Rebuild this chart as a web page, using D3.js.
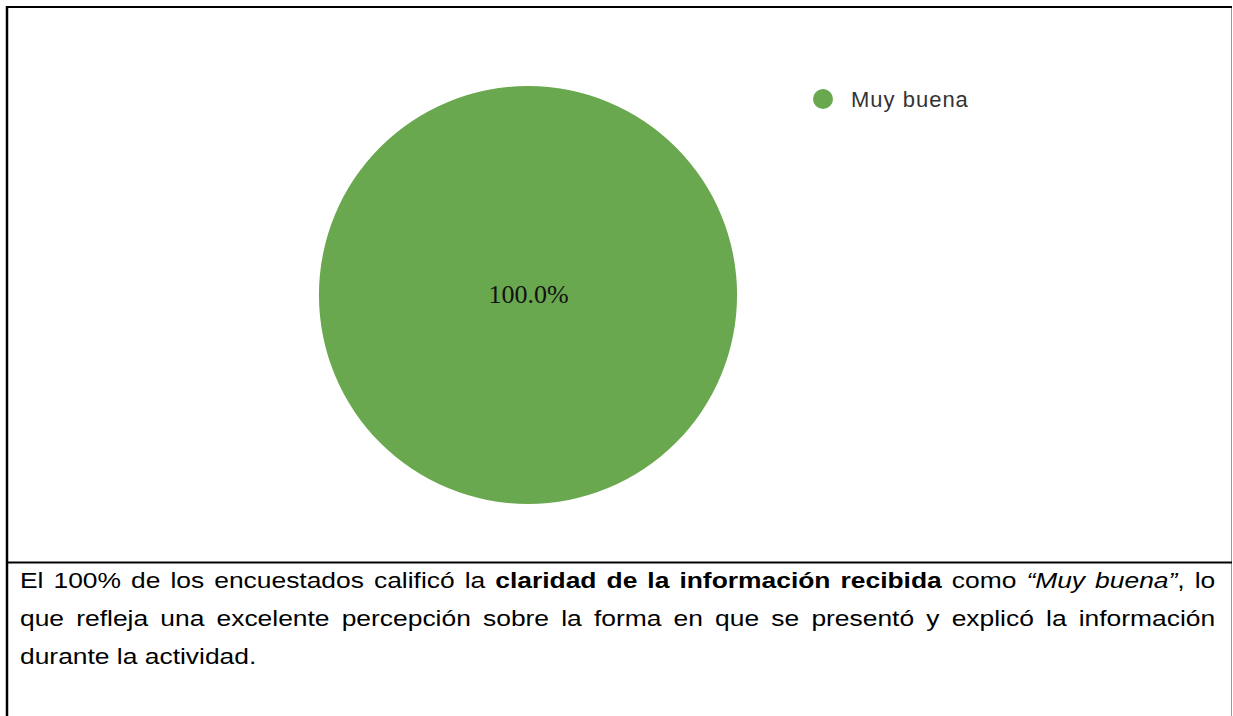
<!DOCTYPE html>
<html>
<head>
<meta charset="utf-8">
<script src="https://cdn.jsdelivr.net/npm/d3@7"></script>
<style>
  html, body { margin: 0; padding: 0; background: #fff; }
  #wrap { position: relative; width: 1233px; height: 716px; overflow: hidden; }
  svg { position: absolute; left: 0; top: 0; }
  #note {
    position: absolute;
    left: 20px;
    top: 562px;
    width: 996px;
    transform: scaleX(1.2);
    transform-origin: 0 0;
    font-family: "Liberation Sans", Arial, sans-serif;
    font-size: 22px;
    line-height: 38px;
    color: #000;
  }
  #note .ln { white-space: nowrap; text-align: justify; text-align-last: justify; }
  #note .ln.last { text-align-last: left; }
</style>
</head>
<body>
<div id="wrap">
  <svg id="chart" width="1233" height="716"></svg>
  <div id="note">
    <div class="ln">El 100% de los encuestados calificó la <b>claridad de la información recibida</b> como <i>“Muy buena”</i>, lo</div>
    <div class="ln">que refleja una excelente percepción sobre la forma en que se presentó y explicó la información</div>
    <div class="ln last">durante la actividad.</div>
  </div>
</div>
<script>
// Chart data
const categories = ["Muy buena"];
const values = [100];
const colors = ["#6aa84f"];

const svg = d3.select("#chart");

// Table borders
svg.append("line").attr("x1", 7).attr("y1", 7).attr("x2", 1232).attr("y2", 7)
    .style("stroke", "#000").style("stroke-width", 2);
svg.append("line").attr("x1", 7).attr("y1", 6).attr("x2", 7).attr("y2", 716)
    .style("stroke", "#000").style("stroke-width", 2.5);
svg.append("line").attr("x1", 1231.5).attr("y1", 8).attr("x2", 1231.5).attr("y2", 716)
    .style("stroke", "#999").style("stroke-width", 1);
svg.append("line").attr("x1", 7).attr("y1", 562.5).attr("x2", 1232).attr("y2", 562.5)
    .style("stroke", "#000").style("stroke-width", 2);

// Pie
const cx = 528, cy = 295, radius = 209;
const color = d3.scaleOrdinal().domain(categories).range(colors);
const pie = d3.pie().sort(null).value(d => d.value);
const arc = d3.arc().innerRadius(0).outerRadius(radius);

const data = categories.map((c, i) => ({ name: c, value: values[i] }));
const total = d3.sum(values);
const isFull = d => d.endAngle - d.startAngle >= 2 * Math.PI - 1e-6;

const pieGroup = svg.append("g").attr("transform", `translate(${cx},${cy})`);

pieGroup.selectAll("path")
    .data(pie(data))
    .enter()
    .append("path")
    .attr("d", arc)
    .style("fill", d => color(d.data.name));

pieGroup.selectAll(".slice-label")
    .data(pie(data))
    .enter()
    .append("text")
    .attr("class", "slice-label")
    .attr("x", d => isFull(d) ? 0.5 : arc.centroid(d)[0])
    .attr("y", d => isFull(d) ? -1 : arc.centroid(d)[1])
    .attr("dy", "0.35em")
    .attr("text-anchor", "middle")
    .style("font-family", "'Liberation Serif', 'Times New Roman', serif")
    .style("font-size", "26px")
    .style("fill", "#111")
    .text(d => (d.data.value / total * 100).toFixed(1) + "%");

// Legend
const legend = svg.selectAll(".legend")
    .data(data)
    .enter()
    .append("g")
    .attr("class", "legend")
    .attr("transform", (d, i) => `translate(823, ${99 + i * 28})`);

legend.append("circle")
    .attr("r", 10)
    .style("fill", d => color(d.name));

legend.append("text")
    .attr("x", 28)
    .attr("dy", "0.35em")
    .style("font-family", "'Liberation Sans', Arial, sans-serif")
    .style("font-size", "22px")
    .style("letter-spacing", "1px")
    .style("fill", "#333")
    .text(d => d.name);
</script>
</body>
</html>
